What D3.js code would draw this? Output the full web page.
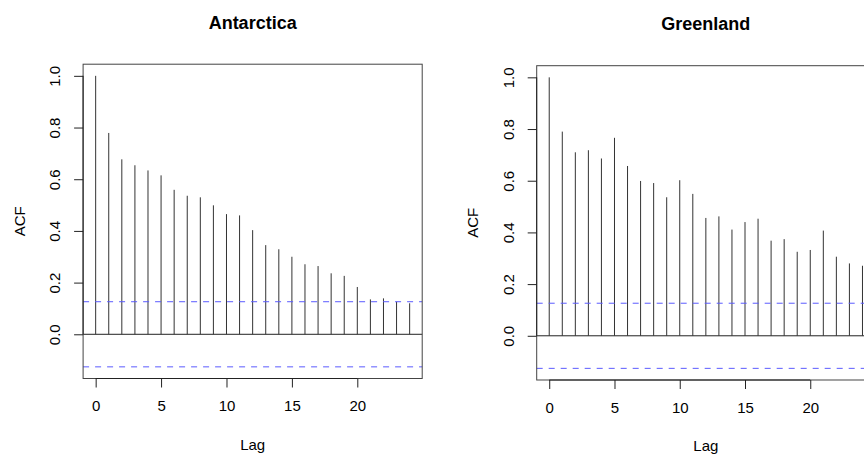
<!DOCTYPE html>
<html>
<head>
<meta charset="utf-8">
<script src="https://cdn.jsdelivr.net/npm/d3@7"></script>
<style>
  body { margin: 0; background: #fff; }
  svg { display: block; font-family: "Liberation Sans", Arial, sans-serif; }
</style>
</head>
<body>
<svg id="chart" width="864" height="457"></svg>
<script>
// lags 0..24
const lags = d3.range(0, 25);

// autocorrelation
const antarcticaAcf = [1.0, 0.779, 0.677, 0.654, 0.634, 0.615, 0.559, 0.536, 0.530, 0.499,
  0.465, 0.460, 0.403, 0.345, 0.329, 0.300, 0.271, 0.264, 0.236, 0.226,
  0.183, 0.135, 0.139, 0.126, 0.120];
const greenlandAcf = [1.0, 0.790, 0.710, 0.718, 0.686, 0.766, 0.657, 0.599, 0.591, 0.536,
  0.602, 0.549, 0.456, 0.462, 0.411, 0.440, 0.453, 0.368, 0.374, 0.325,
  0.332, 0.407, 0.306, 0.280, 0.271];

// confidence bound (blue dashed lines)
const ciBound = 0.126;

const yTicks = [0, 0.2, 0.4, 0.6, 0.8, 1.0];
const xTicks = [0, 5, 10, 15, 20];

const panels = [
  { title: "Antarctica", acf: antarcticaAcf, left: 83.1, top: 64.2, width: 339.1, height: 314.3 },
  { title: "Greenland", acf: greenlandAcf, left: 536.7, top: 65.7, width: 338.3, height: 314.3 },
];

const svg = d3.select("#chart");

function drawPanel(p) {
  const g = svg.append("g").attr("transform", `translate(${p.left},${p.top})`);

  // R style 4% extension of the ranges
  const yMin = Math.min(-ciBound, d3.min(p.acf));
  const yMax = Math.max(ciBound, d3.max(p.acf));
  const yPad = (yMax - yMin) * 0.04;
  const y = d3.scaleLinear().domain([yMin - yPad, yMax + yPad]).range([p.height, 0]);

  const xMin = d3.min(lags), xMax = d3.max(lags);
  const xPad = (xMax - xMin) * 0.04;
  const x = d3.scaleLinear().domain([xMin - xPad, xMax + xPad]).range([0, p.width]);

  // zero line
  g.append("line")
    .attr("x1", 0).attr("x2", p.width)
    .attr("y1", y(0)).attr("y2", y(0))
    .attr("stroke", "#222").attr("stroke-width", 1);

  // spikes
  g.selectAll(".spike")
    .data(lags)
    .join("line")
    .attr("class", "spike")
    .attr("x1", (d) => x(d)).attr("x2", (d) => x(d))
    .attr("y1", y(0))
    .attr("y2", (d) => y(p.acf[d]))
    .attr("stroke", "#333").attr("stroke-width", 1);

  // confidence bounds
  g.selectAll(".ci")
    .data([ciBound, -ciBound])
    .join("line")
    .attr("class", "ci")
    .attr("x1", 0).attr("x2", p.width)
    .attr("y1", (d) => y(d)).attr("y2", (d) => y(d))
    .attr("stroke", "#5a5aff").attr("stroke-width", 1)
    .attr("stroke-dasharray", "6,6");

  // box
  g.append("rect")
    .attr("width", p.width).attr("height", p.height)
    .attr("fill", "none").attr("stroke", "#444").attr("stroke-width", 1);

  // x axis
  const xAxis = g.append("g")
    .attr("transform", `translate(0,${p.height})`)
    .call(d3.axisBottom(x).tickValues(xTicks).tickSize(9).tickSizeOuter(0).tickPadding(13));
  xAxis.select(".domain").remove();
  xAxis.append("line")
    .attr("x1", x(xTicks[0])).attr("x2", x(xTicks[xTicks.length - 1]))
    .attr("stroke", "#222");
  xAxis.selectAll("line").attr("stroke", "#222");
  xAxis.selectAll("text").attr("fill", "#000").attr("font-size", 15)
    .attr("font-family", "'Liberation Sans', Arial, sans-serif");

  // y axis
  const yAxis = g.append("g")
    .call(d3.axisLeft(y).tickValues(yTicks).tickSize(9).tickSizeOuter(0)
      .tickFormat(d3.format(".1f")));
  yAxis.select(".domain").remove();
  yAxis.append("line")
    .attr("y1", y(yTicks[0])).attr("y2", y(yTicks[yTicks.length - 1]))
    .attr("stroke", "#222");
  yAxis.selectAll("line").attr("stroke", "#222");
  yAxis.selectAll(".tick text")
    .attr("x", null).attr("dy", null)
    .attr("fill", "#000").attr("font-size", 15)
    .attr("font-family", "'Liberation Sans', Arial, sans-serif")
    .attr("text-anchor", "middle")
    .attr("transform", "translate(-22.7,0) rotate(-90)");

  // titles
  g.append("text")
    .attr("x", p.width / 2).attr("y", -35.7)
    .attr("text-anchor", "middle")
    .attr("font-size", 18).attr("font-weight", "bold")
    .text(p.title);

  g.append("text")
    .attr("x", p.width / 2).attr("y", p.height + 71.5)
    .attr("text-anchor", "middle")
    .attr("font-size", 15)
    .text("Lag");

  g.append("text")
    .attr("transform", `translate(-58.6,${p.height / 2}) rotate(-90)`)
    .attr("text-anchor", "middle")
    .attr("font-size", 15)
    .text("ACF");
}

panels.forEach(drawPanel);
</script>
</body>
</html>
